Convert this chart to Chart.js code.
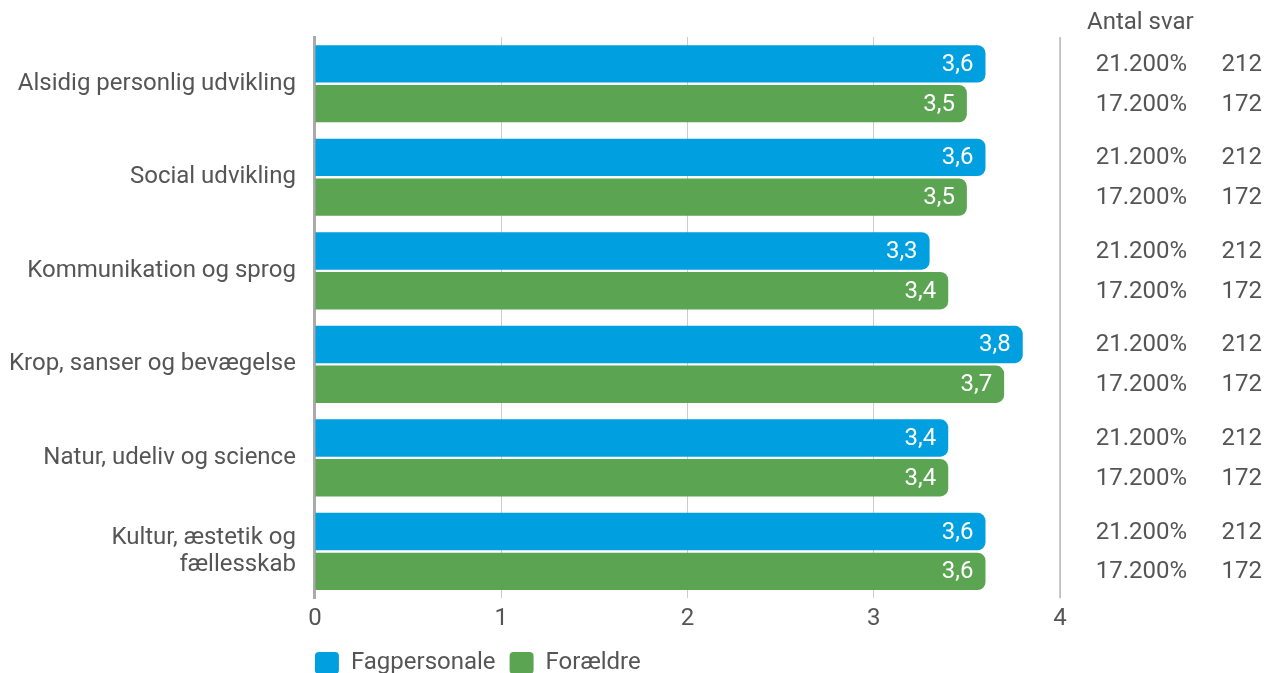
<!DOCTYPE html>
<html>
<head>
<meta charset="utf-8">
<script src="https://cdn.jsdelivr.net/npm/chart.js@4/dist/chart.umd.min.js"></script>
<style>
html,body{margin:0;padding:0;background:#fff;}
#wrap{width:1267px;height:673px;position:relative;}
</style>
</head>
<body>
<div id="wrap"><canvas id="c" width="1267" height="673"></canvas></div>
<script>
const categories = [
  'Alsidig personlig udvikling',
  'Social udvikling',
  'Kommunikation og sprog',
  'Krop, sanser og bevægelse',
  'Natur, udeliv og science',
  ['Kultur, æstetik og', 'fællesskab']
];
const seriesNames = ['Fagpersonale', 'Forældre'];
const fagpersonale = [3.6, 3.6, 3.3, 3.8, 3.4, 3.6];
const foraeldre = [3.5, 3.5, 3.4, 3.7, 3.4, 3.6];
const pctFag = ['21.200%', '21.200%', '21.200%', '21.200%', '21.200%', '21.200%'];
const pctFor = ['17.200%', '17.200%', '17.200%', '17.200%', '17.200%', '17.200%'];
const nFag = ['212', '212', '212', '212', '212', '212'];
const nFor = ['172', '172', '172', '172', '172', '172'];
const sideTitle = 'Antal svar';
const xTicks = [0, 1, 2, 3, 4];

const FONT = 'Roboto, "Open Sans", sans-serif';
const FS = 24;
const FW = 400;
const TXT = '#555555';
const LEG_PAD = 14;
const LEG_SHIFT_Y = -2;

const labelsPlugin = {
  id: 'valueLabels',
  afterLayout(chart) {
    const l = chart.legend;
    if (l) {
      const w = l.right - l.left, h = l.bottom - l.top;
      l.left = chart.chartArea.left - LEG_PAD; l.right = l.left + w;
      l.top = l.top + LEG_SHIFT_Y; l.bottom = l.top + h;
    }
  },
  afterDatasetsDraw(chart) {
    const ctx = chart.ctx;
    ctx.save();
    ctx.font = FW + ' ' + FS + 'px ' + FONT;
    ctx.fillStyle = '#ffffff';
    ctx.textAlign = 'right';
    ctx.textBaseline = 'middle';
    chart.data.datasets.forEach((ds, di) => {
      const meta = chart.getDatasetMeta(di);
      meta.data.forEach((bar, i) => {
        const v = ds.data[i];
        ctx.fillText(v.toFixed(1).replace('.', ','), bar.x - 12, bar.y + 1);
      });
    });
    const area = chart.chartArea;
    ctx.fillStyle = TXT;
    ctx.textAlign = 'left';
    ctx.fillText(sideTitle, 1087, 23);
    ctx.textAlign = 'right';
    const m0 = chart.getDatasetMeta(0), m1 = chart.getDatasetMeta(1);
    m0.data.forEach((bar, i) => {
      ctx.fillText(pctFag[i], 1187, bar.y + 1);
      ctx.fillText(nFag[i], 1262, bar.y + 1);
    });
    m1.data.forEach((bar, i) => {
      ctx.fillText(pctFor[i], 1187, bar.y + 1);
      ctx.fillText(nFor[i], 1262, bar.y + 1);
    });
    ctx.strokeStyle = '#bbbbbb';
    ctx.lineWidth = 1.5;
    ctx.beginPath();
    ctx.moveTo(area.right, area.top);
    ctx.lineTo(area.right, area.bottom);
    ctx.stroke();
    ctx.restore();
  }
};

new Chart(document.getElementById('c'), {
  type: 'bar',
  data: {
    labels: categories,
    datasets: [
      { label: seriesNames[0], data: fagpersonale, backgroundColor: '#009FE0',
        borderRadius: 8, borderSkipped: 'start', categoryPercentage: 0.85, barPercentage: 0.94 },
      { label: seriesNames[1], data: foraeldre, backgroundColor: '#5BA552',
        borderRadius: 8, borderSkipped: 'start', categoryPercentage: 0.85, barPercentage: 0.94 }
    ]
  },
  options: {
    indexAxis: 'y',
    responsive: false,
    animation: false,
    devicePixelRatio: 1,
    layout: { padding: { left: -10, right: 207, top: 37, bottom: -6 } },
    scales: {
      x: {
        min: 0, max: 4,
        afterBuildTicks(axis) { axis.ticks = xTicks.map(v => ({ value: v })); },
        afterFit(s) { s.paddingLeft = 0; s.paddingRight = 0; },
        grid: { color: '#cccccc', lineWidth: 1, drawTicks: false },
        border: { display: false },
        ticks: { color: TXT, font: { family: FONT, size: FS, weight: FW }, padding: 6 }
      },
      y: {
        afterFit(s) { s.paddingTop = 0; s.paddingBottom = 0; },
        grid: { display: false, drawTicks: false },
        border: { display: true, color: '#aaaaaa', width: 3 },
        ticks: { color: TXT, font: { family: FONT, size: FS, weight: FW, lineHeight: 1.15 }, padding: 19 }
      }
    },
    plugins: {
      legend: {
        position: 'bottom', align: 'start', fullSize: false, maxHeight: 40,
        labels: {
          color: TXT, font: { family: FONT, size: FS, weight: FW },
          boxWidth: 24, boxHeight: 22, padding: LEG_PAD, useBorderRadius: true, borderRadius: 4,
          generateLabels(chart) {
            return chart.data.datasets.map((ds, i) => ({
              text: ds.label, fillStyle: ds.backgroundColor, strokeStyle: ds.backgroundColor,
              lineWidth: 0, borderRadius: 4, datasetIndex: i, fontColor: TXT
            }));
          }
        }
      },
      tooltip: { enabled: false }
    }
  },
  plugins: [labelsPlugin]
});
</script>
</body>
</html>
